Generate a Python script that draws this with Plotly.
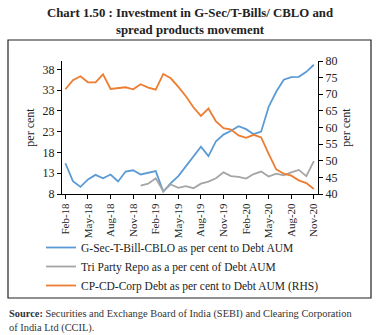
import plotly.graph_objects as go

# Monthly observations, Feb-2018 to Nov-2020
months = ["Feb-18", "Mar-18", "Apr-18", "May-18", "Jun-18", "Jul-18", "Aug-18", "Sep-18",
          "Oct-18", "Nov-18", "Dec-18", "Jan-19", "Feb-19", "Mar-19", "Apr-19", "May-19",
          "Jun-19", "Jul-19", "Aug-19", "Sep-19", "Oct-19", "Nov-19", "Dec-19", "Jan-20",
          "Feb-20", "Mar-20", "Apr-20", "May-20", "Jun-20", "Jul-20", "Aug-20", "Sep-20",
          "Oct-20", "Nov-20"]

gsec_tbill_cblo = [15.4, 11.1, 9.7, 11.5, 12.6, 11.8, 12.7, 11.0, 13.4, 13.7, 12.7, 13.1,
                   13.5, 8.6, 10.6, 12.3, 14.6, 17.0, 19.4, 17.1, 20.7, 22.3, 23.2, 24.3,
                   23.6, 22.4, 23.0, 29.0, 32.6, 35.5, 36.1, 36.2, 37.4, 39.1]

tri_party_repo = [None, None, None, None, None, None, None, None, None, None, 10.0, 10.5,
                  11.8, 8.7, 10.3, 9.5, 9.9, 9.4, 10.5, 11.0, 11.8, 13.2, 12.3, 12.1,
                  11.7, 12.8, 13.4, 12.2, 12.9, 12.5, 13.2, 13.8, 12.3, 15.9]

cp_cd_corp = [71.5, 74.2, 75.4, 73.6, 73.6, 76.0, 71.6, 71.8, 72.1, 71.5, 73.0, 72.0,
              71.4, 76.1, 74.8, 72.2, 69.4, 66.1, 63.5, 65.7, 61.8, 59.8, 59.4, 57.6,
              56.9, 57.8, 57.0, 52.1, 47.4, 46.1, 45.5, 44.1, 43.3, 41.5]

left_ticks = [8, 13, 18, 23, 28, 33, 38]
right_ticks = [40, 45, 50, 55, 60, 65, 70, 75, 80]

idx = list(range(len(months)))
tick_idx = idx[::3]
tick_txt = months[::3]

SERIF = "Liberation Serif, Times New Roman, serif"

fig = go.Figure()
fig.add_trace(go.Scatter(x=idx, y=gsec_tbill_cblo, mode="lines",
                         name="G-Sec-T-Bill-CBLO as per cent to Debt AUM",
                         line=dict(color="#5B9BD5", width=1.8)))
fig.add_trace(go.Scatter(x=idx, y=tri_party_repo, mode="lines",
                         name="Tri Party Repo as a per cent of Debt AUM",
                         line=dict(color="#A5A5A5", width=1.8)))
fig.add_trace(go.Scatter(x=idx, y=cp_cd_corp, mode="lines", yaxis="y2",
                         name="CP-CD-Corp Debt as per cent to Debt AUM (RHS)",
                         line=dict(color="#ED7D31", width=1.8)))

# plot area in pixels: x 62..318, y 61..194
L, R, T, B = 62, 60, 61, 141
W, H = 378 - L - R, 335 - T - B


def px(x):
    return (x - L) / W


def py(y):
    return (335 - B - y) / H


fig.update_layout(
    width=378, height=335,
    margin=dict(l=L, r=R, t=T, b=B),
    paper_bgcolor="white", plot_bgcolor="white",
    font=dict(family=SERIF, size=11, color="#222"),
    showlegend=True,
    xaxis=dict(
        range=[-0.45, 33.55], tickmode="array", tickvals=tick_idx, ticktext=tick_txt,
        tickangle=-90, ticks="outside", ticklen=4, tickcolor="black",
        showline=True, linecolor="black", linewidth=1, showgrid=False, zeroline=False,
        tickfont=dict(family=SERIF, size=11, color="#222"),
    ),
    yaxis=dict(
        range=[8, 40], tickmode="array", tickvals=left_ticks,
        ticks="outside", ticklen=4, tickcolor="black",
        showline=True, linecolor="black", linewidth=1, showgrid=False, zeroline=False,
        title=dict(text="per cent", font=dict(family=SERIF, size=12, color="#222"), standoff=5),
        tickfont=dict(family=SERIF, size=12, color="#222"),
    ),
    yaxis2=dict(
        range=[40, 80], tickmode="array", tickvals=right_ticks, overlaying="y", side="right",
        ticks="outside", ticklen=4, tickcolor="black",
        showline=True, linecolor="black", linewidth=1, showgrid=False, zeroline=False,
        title=dict(text="per cent", font=dict(family=SERIF, size=12, color="#222"), standoff=5),
        tickfont=dict(family=SERIF, size=12, color="#222"),
    ),
    legend=dict(
        x=px(41), y=py(233), xanchor="left", yanchor="top",
        font=dict(family=SERIF, size=11.5, color="#222"),
        bgcolor="rgba(0,0,0,0)", tracegroupgap=0, itemwidth=30,
    ),
    shapes=[dict(type="rect", xref="paper", yref="paper",
                 x0=px(8), x1=px(371), y0=py(298), y1=py(40),
                 line=dict(color="#222", width=1.2), fillcolor="rgba(0,0,0,0)", layer="below")],
    annotations=[
        dict(
            xref="paper", yref="paper", x=px(190), y=py(4), xanchor="center", yanchor="top",
            align="center", showarrow=False,
            text="<b>Chart 1.50 : Investment in G-Sec/T-Bills/ CBLO and<br>spread products movement</b>",
            font=dict(family=SERIF, size=12.8, color="#222"),
        ),
        dict(
            xref="paper", yref="paper", x=px(7), y=py(306), xanchor="left", yanchor="top",
            align="left", showarrow=False,
            text="<b>Source:</b> Securities and Exchange Board of India (SEBI) and Clearing Corporation<br>of India Ltd (CCIL).",
            font=dict(family=SERIF, size=10.4, color="#333"),
        ),
    ],
)

fig.write_html("out.html")
